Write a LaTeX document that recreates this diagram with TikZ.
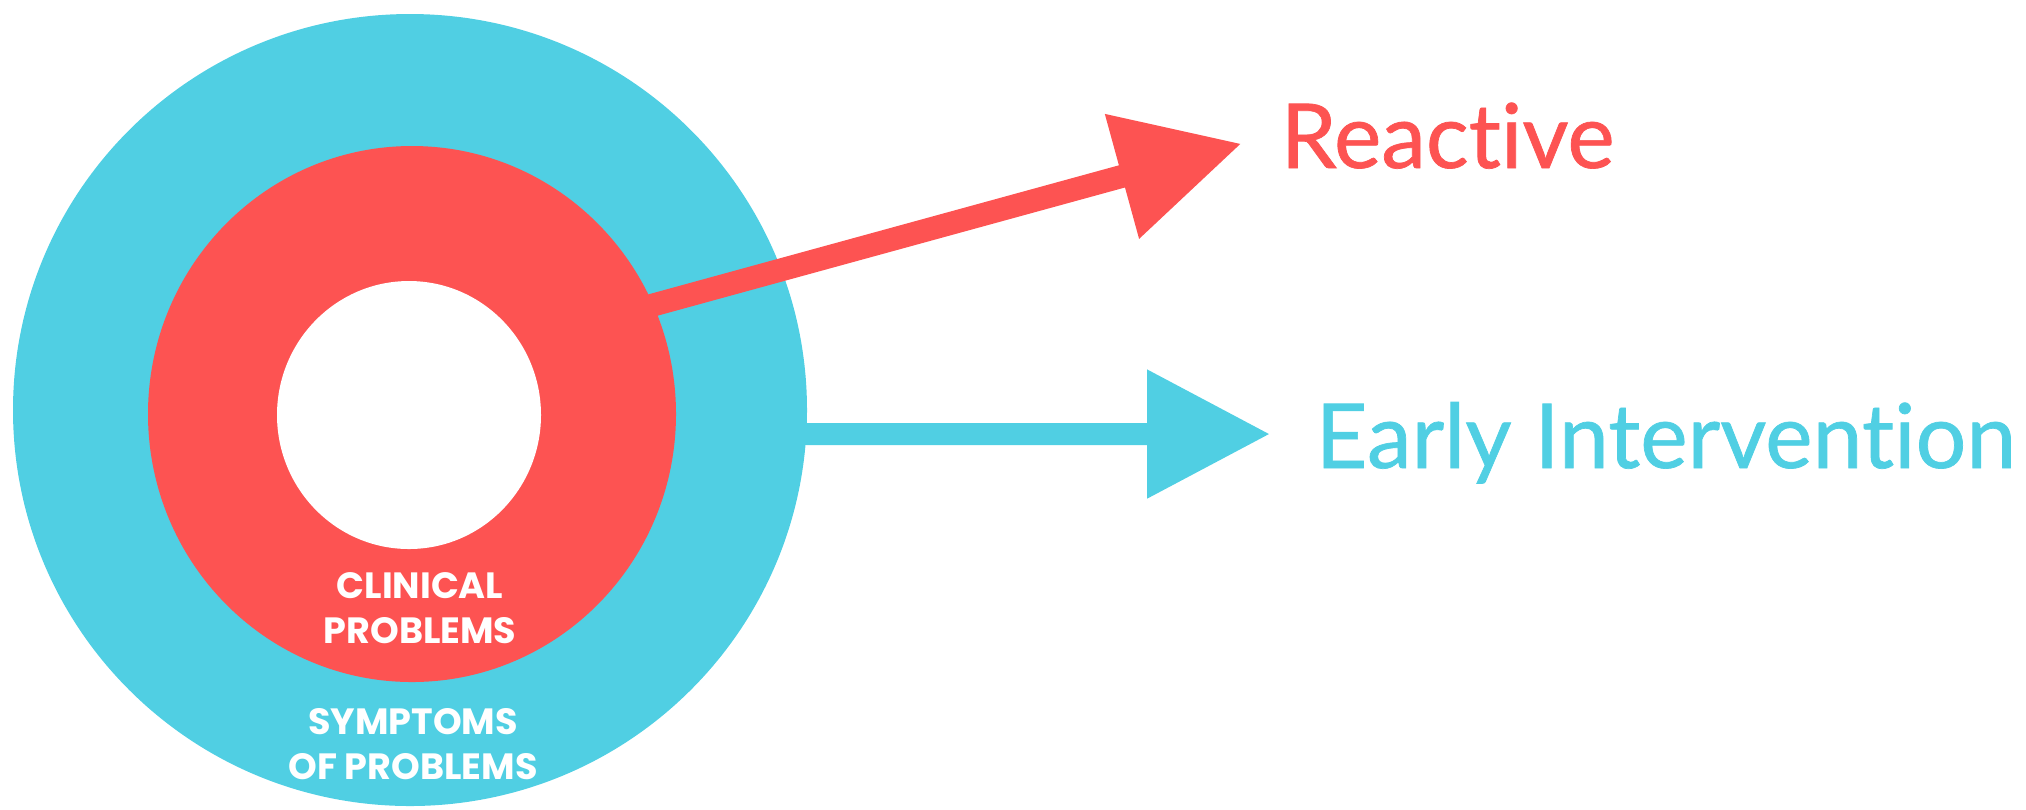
\documentclass[tikz,border=0pt]{standalone}
\usepackage{fontspec}
\setmainfont{Lato}[Ligatures=NoCommon]
\newfontfamily\capsfont{Poppins}
\newfontfamily\namefont{Lato}[Ligatures=NoCommon, FakeBold=0.8]
\usepackage{tikz}
\usetikzlibrary{arrows.meta}
\definecolor{ringred}{RGB}{253,83,82}
\definecolor{blobcyan}{RGB}{80,207,227}

\begin{document}
\begin{tikzpicture}[scale=0.1]
	\tikzstyle{every node}+=[inner sep=0pt]
	\tikzstyle{bigtext}=[anchor=base west, text depth=0pt, font=\namefont\fontsize{25.5}{30}\selectfont]
	\tikzstyle{caps}=[align=center, text=white, font=\capsfont\bfseries\fontsize{10.4}{12.6}\selectfont]
	\useasboundingbox (0,0) rectangle (202.6,-80.9);
	\fill [blobcyan] (41.0,-41.0) ellipse (39.7 and 39.6);
	\fill [ringred] (41.2,-41.4) ellipse (26.4 and 26.8);
	\fill [white] (40.9,-41.5) ellipse (13.2 and 13.4);
	\draw (42.0,-60.8) node [caps] (clin) {CLINICAL\\PROBLEMS};
	\draw (41.3,-74.4) node [caps] (symp) {SYMPTOMS\\OF PROBLEMS};
	\draw (128.0,-16.8) node [bigtext, text height=0.7cm, text=ringred] (react) {Reactive};
	\draw (131.5,-46.8) node [bigtext, text height=0.68cm, text=blobcyan] (early) {Early Intervention};
	\coordinate (rstart) at (64.2,-30.8);
	\coordinate (estart) at (79.0,-43.4);
	\draw [ringred, line width=0.23cm, -{Triangle[length=1.24cm,width=1.23cm]}, shorten >=0.4cm] (rstart) -- (react.west);
	\draw [blobcyan, line width=0.22cm, -{Triangle[length=1.23cm,width=1.23cm]}, shorten >=0.45cm] (estart) -- (early.west);
\end{tikzpicture}
\end{document}
